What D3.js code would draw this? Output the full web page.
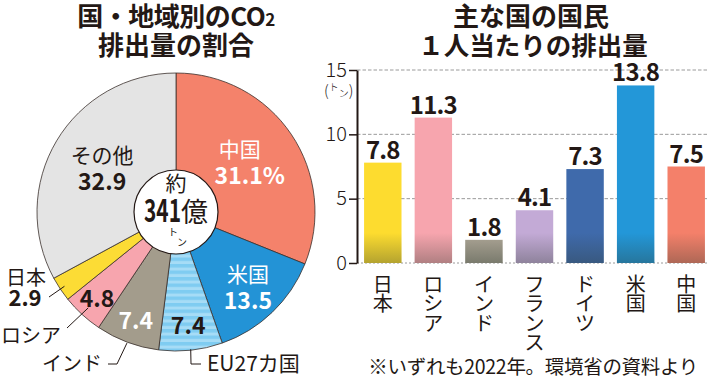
<!DOCTYPE html>
<html><head><meta charset="utf-8">
<script src="https://cdn.jsdelivr.net/npm/d3@7"></script>
<style>
body{margin:0;background:#fff;}
svg{display:block;}
text{font-family:"Noto Sans CJK JP","Noto Sans",sans-serif;fill:#231815;}
</style></head>
<body>
<svg id="c" width="709" height="381"></svg>
<script>
// ---------- data ----------
const pieLabels = ["中国","米国","EU27カ国","インド","ロシア","日本","その他"];
const pieValues = [31.1,13.5,7.4,7.4,4.8,2.9,32.9];
const pieTotal = "341";
const barCategories = ["日本","ロシア","インド","フランス","ドイツ","米国","中国"];
const barValues = [7.8,11.3,1.8,4.1,7.3,13.8,7.5];
const yTicks = [0,5,10,15];
const leftTitle = ["国・地域別のCO","排出量の割合"];
const rightTitle = ["主な国の国民","１人当たりの排出量"];
const note = "※いずれも2022年。環境省の資料より";

// ---------- styles ----------
const ink = "#231815";
const pieColors = ["#f4826b","#2393d6","url(#stripe)","#a39c8c","#f7a5ae","#fcdc35","#e4e4e4"];
const barColors = ["#fddc2f","#f7a5ae","#a39d8e","#c3aad6","#3f6aab","#2397d8","#f4806a"];

const svg = d3.select("#c");
const defs = svg.append("defs");
const pat = defs.append("pattern").attr("id","stripe").attr("patternUnits","userSpaceOnUse")
  .attr("width",10).attr("height",6.5);
pat.append("rect").attr("width",10).attr("height",6.5).attr("fill","#a6dcf6");
pat.append("rect").attr("width",10).attr("height",3.5).attr("fill","#7fccf1");
const grad = defs.append("linearGradient").attr("id","btm").attr("x1",0).attr("y1",0).attr("x2",0).attr("y2",1);
grad.append("stop").attr("offset","0%").attr("stop-color","#2d3a30").attr("stop-opacity",0);
grad.append("stop").attr("offset","100%").attr("stop-color","#2d3a30").attr("stop-opacity",0.35);

// ---------- titles ----------
const lt = svg.append("g").attr("font-weight","bold").attr("font-size",26).attr("text-anchor","middle");
const t1 = lt.append("text").attr("x",176).attr("y",26).attr("letter-spacing",-0.5);
t1.append("tspan").text(leftTitle[0]);
t1.append("tspan").attr("font-size",17).text("2");
lt.append("text").attr("x",176).attr("y",55).text(leftTitle[1]);
const rt = svg.append("g").attr("font-weight","bold").attr("font-size",26).attr("text-anchor","middle");
rt.append("text").attr("x",531).attr("y",26).text(rightTitle[0]);
rt.append("text").attr("x",533).attr("y",55).attr("font-size",25.5).text(rightTitle[1]);

// ---------- pie ----------
const cx = 176, cy = 212, R = 139, r0 = 42;
const pie = d3.pie().sort(null).value(d=>d)(pieValues);
const arc = d3.arc().innerRadius(0).outerRadius(R);
const gp = svg.append("g").attr("transform",`translate(${cx},${cy})`);
gp.selectAll("path.s").data(pie).join("path").attr("class","s")
  .attr("d",arc).attr("fill",(d,i)=>pieColors[i])
  .attr("stroke","#3a302c").attr("stroke-width",0.8);
gp.append("circle").attr("r",r0).attr("fill","#fff").attr("stroke",ink).attr("stroke-width",1.2);
gp.append("text").attr("y",-21).attr("text-anchor","middle").attr("font-size",21).text("約");
const ct = gp.append("text").attr("y",10).attr("text-anchor","middle");
ct.append("tspan").attr("font-size",31).attr("font-weight","bold").attr("textLength",37).attr("lengthAdjust","spacingAndGlyphs").text(pieTotal);
ct.append("tspan").attr("font-size",27).text("億");
gp.append("text").attr("x",-8).attr("y",24).attr("font-size",10).text("ト");
gp.append("text").attr("x",1).attr("y",34).attr("font-size",10).text("ン");

// labels inside slices
const midA = d => (d.startAngle+d.endAngle)/2;
const polar = (a,rr)=>[Math.sin(a)*rr, -Math.cos(a)*rr];
const inner = [
  {i:0, r:89, name:true, pct:true, col:"#fff"},
  {i:1, r:104, name:true, col:"#fff"},
  {i:2, r:114, name:false, col:ink},
  {i:3, r:115, name:false, col:"#fff"},
  {i:4, r:117, name:false, col:ink},
  {i:6, r:86, name:true, col:ink}
];
inner.forEach(o=>{
  const d = pie[o.i];
  const [x,y] = polar(midA(d), o.r);
  const fmt = d3.format(".1f")(pieValues[o.i]) + (o.pct?"%":"");
  if(o.name){
    gp.append("text").attr("x",x - (o.pct?10:0)).attr("y",y-5).attr("text-anchor","middle")
      .attr("font-size",21).style("fill",o.col).text(pieLabels[o.i]);
    gp.append("text").attr("x",x).attr("y",y+22).attr("text-anchor","middle")
      .attr("font-size",23).attr("font-weight","bold").style("fill",o.col).text(fmt);
  } else {
    gp.append("text").attr("x",x).attr("y",y+9).attr("text-anchor","middle")
      .attr("font-size",23).attr("font-weight","bold").style("fill",o.col).text(fmt);
  }
});

// outside labels with leader lines
const lineG = svg.append("g").attr("stroke",ink).attr("stroke-width",1).attr("fill","none");
function leader(i, rr, pts){
  const [x,y] = polar(midA(pie[i]), rr);
  const p = [[cx+x, cy+y]].concat(pts);
  lineG.append("path").attr("d", d3.line()(p));
}
leader(5, 134, [[49,297]]);
svg.append("text").attr("x",26).attr("y",285).attr("text-anchor","middle").attr("font-size",20).text(pieLabels[5]);
svg.append("text").attr("x",25).attr("y",306).attr("text-anchor","middle").attr("font-size",22).attr("font-weight","bold").text(d3.format(".1f")(pieValues[5]));
leader(4, 130, [[67,328]]);
svg.append("text").attr("x",31).attr("y",343).attr("text-anchor","middle").attr("font-size",20).text(pieLabels[4]);
leader(3, 140, [[117,364],[108,364]]);
svg.append("text").attr("x",72).attr("y",371).attr("text-anchor","middle").attr("font-size",20).text(pieLabels[3]);
leader(2, 138, [[191,364],[201,364]]);
svg.append("text").attr("x",207).attr("y",371).attr("text-anchor","start").attr("font-size",21).text(pieLabels[2]);

// ---------- bar chart ----------
const x = d3.scaleBand().domain(barCategories).range([357,712]).paddingInner(0.26).paddingOuter(0.14);
const y = d3.scaleLinear().domain([0,15]).range([263,70]);

const grid = svg.append("g");
grid.selectAll("line").data(yTicks).join("line")
  .attr("x1",357).attr("x2",709).attr("y1",d=>y(d)).attr("y2",d=>y(d))
  .attr("stroke","#9a9a9a").attr("stroke-width",1).attr("stroke-dasharray",d=>d===0?"2,2":"3.5,2");

const bars = svg.append("g");
bars.selectAll("rect.b").data(barValues).join("rect").attr("class","b")
  .attr("x",(d,i)=>x(barCategories[i])).attr("width",x.bandwidth())
  .attr("y",d=>y(d)).attr("height",d=>y(0)-y(d)).attr("fill",(d,i)=>barColors[i]);
bars.selectAll("rect.g").data(barValues).join("rect").attr("class","g")
  .attr("x",(d,i)=>x(barCategories[i])).attr("width",x.bandwidth())
  .attr("y",d=>Math.max(y(d), y(0)-30)).attr("height",d=>y(0)-Math.max(y(d), y(0)-30))
  .attr("fill","url(#btm)");
bars.selectAll("text").data(barValues).join("text")
  .attr("x",(d,i)=>x(barCategories[i])+x.bandwidth()/2).attr("y",d=>y(d)-4)
  .attr("text-anchor","middle").attr("font-size",24).attr("font-weight","bold")
  .attr("letter-spacing",-0.8).text(d=>d3.format(".1f")(d));

const ax = svg.append("g").attr("transform","translate(357,0)")
  .call(d3.axisLeft(y).tickValues(yTicks).tickSize(8).tickSizeOuter(0).tickPadding(2));
ax.select(".domain").attr("stroke",ink).attr("stroke-width",2);
ax.selectAll(".tick line").attr("stroke",ink).attr("stroke-width",1.5);
ax.selectAll(".tick text").attr("font-size",20).attr("font-weight",300)
  .attr("font-family",'"Noto Sans CJK JP","Noto Sans",sans-serif').attr("fill",ink).attr("dy","0.35em").attr("y",-1);
const u = svg.append("text").attr("x",324).attr("y",96).attr("font-size",15).attr("font-weight",300);
u.append("tspan").text("(");
u.append("tspan").attr("font-size",10).attr("dy",-5).text("ト");
u.append("tspan").attr("font-size",10).attr("dy",6).text("ン");
u.append("tspan").attr("dy",-1).text(")");

const xl = svg.append("g").attr("font-size",20).attr("text-anchor","middle");
barCategories.forEach(c=>{
  Array.from(c).forEach((ch,j)=>{
    xl.append("text").attr("x",x(c)+x.bandwidth()/2).attr("y",283+j*19.5)
      .attr("dominant-baseline","central").text(ch);
  });
});

svg.append("text").attr("x",698).attr("y",374).attr("text-anchor","end").attr("font-size",19.5).attr("letter-spacing",-0.3).text(note);
</script>
</body></html>
